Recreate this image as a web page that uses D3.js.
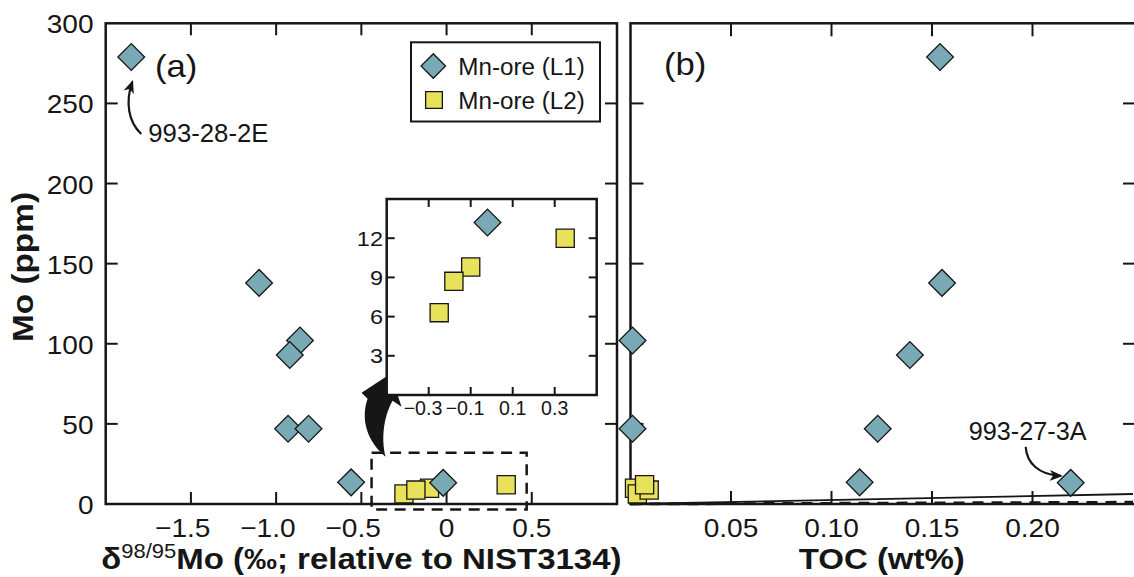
<!DOCTYPE html>
<meta charset='utf-8'>
<style>
    html, body {
        margin: 0;
        background: white;
    }
    svg {
        display: block;
        font-family: 'Liberation Sans', Arial, sans-serif;
    }
</style>
<title>Mo vs d98/95Mo and TOC</title>
<body>
<script src='https://d3js.org/d3.v7.min.js'></script>
<script>

	// Mn-ore (L1), diamonds
	let l1Delta = [-1.85, -1.10, -0.86, -0.92, -0.93, -0.81, -0.56, -0.02];
	let l1Mo    = [279, 138, 102, 93, 47, 47, 13.5, 13.2];
	let l1Toc   = [0.154, 0.155, 0.001, 0.139, 0.001, 0.123, 0.114, 0.219];

	// Mn-ore (L2), squares
	let l2Delta = [-0.10, -0.25, -0.18, 0.35];
	let l2Mo    = [9.8, 6.3, 8.7, 12.0];
	let l2Toc   = [0.002, 0.0034, 0.0093, 0.007];

	// Mo/TOC reference lines in (b)
	let ratioSolid = 25;
	let ratioDashed = 4.5;

	// zoomed area in (a)
	let boxDelta = [-0.44, 0.47];
	let boxMo = [-3.5, 32];

	let moTicks = [0, 50, 100, 150, 200, 250, 300];
	let deltaTicks = [-1.5, -1.0, -0.5, 0, 0.5];
	let tocTicks = [0.05, 0.10, 0.15, 0.20];
	let insetXTicks = [-0.3, -0.1, 0.1, 0.3];
	let insetYTicks = [3, 6, 9, 12];

	let l1 = l1Mo.map(function (m, i) { return {delta: l1Delta[i], mo: m, toc: l1Toc[i]}; });
	let l2 = l2Mo.map(function (m, i) { return {delta: l2Delta[i], mo: m, toc: l2Toc[i]}; });

	let blue = '#78a9b5', yellow = '#e8e15a', ink = '#161616';

	let svg = d3.select('body').append('svg')
		.attr('width', 1134)
		.attr('height', 577);

	let xa = d3.scaleLinear().domain([-2, 1]).range([105.7, 617]);
	let ya = d3.scaleLinear().domain([0, 300]).range([504, 23.3]);
	let xb = d3.scaleLinear().domain([0, 0.25]).range([630.5, 1133]);
	let xi = d3.scaleLinear().domain([-0.5, 0.5]).range([386.7, 596.7]);
	let yi = d3.scaleLinear().domain([0, 15]).range([395, 199]);

	let diamond = d3.symbol().type(d3.symbolSquare).size(357);
	let square = d3.symbol().type(d3.symbolSquare).size(330);

	function txt(g, x, y, s, size, sx, anchor, bold) {
		return g.append('text')
			.attr('transform', 'translate(' + x + ',' + y + ') scale(' + sx + ',1)')
			.attr('font-size', size)
			.attr('text-anchor', anchor || 'start')
			.attr('font-weight', bold ? 'bold' : null)
			.attr('fill', ink)
			.text(s);
	}

	// box with inward ticks on all sides
	function frame(x0, x1, y0, y1, xs, ys, xt, yt, len, sw) {
		let g = svg.append('g').attr('stroke', ink);
		g.append('rect')
			.attr('x', x0).attr('y', y1)
			.attr('width', x1 - x0).attr('height', y0 - y1)
			.attr('fill', 'none')
			.attr('stroke-width', sw);
		xt.forEach(function (v) {
			g.append('line').attr('x1', xs(v)).attr('x2', xs(v)).attr('y1', y0).attr('y2', y0 - len).attr('stroke-width', 2);
			g.append('line').attr('x1', xs(v)).attr('x2', xs(v)).attr('y1', y1).attr('y2', y1 + len).attr('stroke-width', 2);
		});
		yt.forEach(function (v) {
			g.append('line').attr('y1', ys(v)).attr('y2', ys(v)).attr('x1', x0).attr('x2', x0 + len).attr('stroke-width', 2);
			g.append('line').attr('y1', ys(v)).attr('y2', ys(v)).attr('x1', x1).attr('x2', x1 - len).attr('stroke-width', 2);
		});
	}

	function fmt1(v) { return v === 0 ? '0' : d3.format('.1f')(v); }

	// x label with the minus hanging left of the centred number
	function xLabel(g, x, y, v, s, size, sx) {
		let shift = v < 0 ? 0.584 * size * sx / 2 : 0;
		txt(g, x - shift, y, s, size, sx, 'middle');
	}

	function drawMarks(g, data, xs, ys, xKey, shape, sym, fill) {
		g.selectAll(null)
			.data(data)
			.enter().append('path')
			.attr('d', sym)
			.attr('transform', function (d) {
				return 'translate(' + xs(d[xKey]) + ',' + ys(d.mo) + ')' + (shape === 'diamond' ? ' rotate(45)' : '');
			})
			.attr('fill', fill)
			.attr('stroke', ink)
			.attr('stroke-width', 1.3);
	}

	svg.append('defs').append('marker')
		.attr('id', 'head')
		.attr('viewBox', '0 0 12 10')
		.attr('refX', 10).attr('refY', 5)
		.attr('markerWidth', 13).attr('markerHeight', 11)
		.attr('markerUnits', 'userSpaceOnUse')
		.attr('orient', 'auto')
		.append('path')
		.attr('d', 'M0,0 L12,5 L0,10 L3,5 Z')
		.attr('fill', ink);

	// ---------- panel (a)
	frame(105.7, 617, 504, 23.3, xa, ya, deltaTicks, moTicks.slice(1, -1), 12, 2.5);

	let labels = svg.append('g');
	moTicks.forEach(function (v) {
		txt(labels, 93.5, ya(v) + 10, String(v), 26, 1.08, 'end');
	});
	deltaTicks.forEach(function (v) {
		xLabel(labels, xa(v), 537, v, fmt1(v), 26, 1.08);
	});
	tocTicks.forEach(function (v) {
		txt(labels, xb(v), 537, d3.format('.2f')(v), 26, 1.08, 'middle');
	});

	let xt = labels.append('text')
		.attr('transform', 'translate(' + ((xa.range()[0] + xa.range()[1]) / 2) + ',569) scale(1.1,1)')
		.attr('text-anchor', 'middle')
		.attr('font-size', 30)
		.attr('font-weight', 'bold')
		.attr('fill', ink);
	xt.append('tspan').text('δ');
	xt.append('tspan').attr('dy', -11).attr('font-size', 20).attr('font-weight', 'normal').text('98/95');
	xt.append('tspan').attr('dy', 11).text('Mo (‰; relative to NIST3134)');

	txt(labels, (xb.range()[0] + xb.range()[1]) / 2, 569, 'TOC (wt%)', 30, 1.1, 'middle', true);

	labels.append('text')
		.attr('transform', 'translate(32.5,267) rotate(-90) scale(1.15,1)')
		.attr('text-anchor', 'middle')
		.attr('font-size', 29)
		.attr('font-weight', 'bold')
		.attr('fill', ink)
		.text('Mo (ppm)');

	txt(labels, 155, 77, '(a)', 31, 1.12);
	txt(labels, 664, 75, '(b)', 31, 1.12);

	// zoom box and big arrow to the inset
	let bx = xa(boxDelta[0]), by = ya(boxMo[1]);
	svg.append('rect')
		.attr('x', bx).attr('y', by)
		.attr('width', xa(boxDelta[1]) - bx)
		.attr('height', ya(boxMo[0]) - by)
		.attr('fill', 'none')
		.attr('stroke', ink)
		.attr('stroke-width', 2.5)
		.attr('stroke-dasharray', '11,7.5');

	svg.append('path')
		.attr('transform', 'translate(' + bx + ',' + by + ')')
		.attr('d', 'M14,4 C-5,-12 -11,-34 -4,-54 L-10,-60 L19,-79 L30,-46 L21,-52 C13,-38 9,-16 14,4 Z')
		.attr('fill', ink);

	drawMarks(svg.append('g'), l2, xa, ya, 'delta', 'square', square, yellow);
	drawMarks(svg.append('g'), l1, xa, ya, 'delta', 'diamond', diamond, blue);

	// annotation 993-28-2E
	let p1 = {x: xa(l1[0].delta), y: ya(l1[0].mo)};
	svg.append('path')
		.attr('d', 'M' + (p1.x + 10) + ',' + (p1.y + 77) + ' C' + (p1.x - 3) + ',' + (p1.y + 65) + ' ' + (p1.x - 6) + ',' + (p1.y + 45) + ' ' + (p1.x + 1) + ',' + (p1.y + 25))
		.attr('fill', 'none')
		.attr('stroke', ink)
		.attr('stroke-width', 2.2)
		.attr('marker-end', 'url(#head)');
	txt(labels, p1.x + 17, p1.y + 85, '993-28-2E', 25, 1.03);

	// legend
	let leg = svg.append('g');
	leg.append('rect')
		.attr('x', 411).attr('y', 42.3)
		.attr('width', 189).attr('height', 79.2)
		.attr('fill', 'white')
		.attr('stroke', ink)
		.attr('stroke-width', 2);
	leg.append('path')
		.attr('d', d3.symbol().type(d3.symbolSquare).size(300))
		.attr('transform', 'translate(433.3,66) rotate(45)')
		.attr('fill', blue).attr('stroke', ink).attr('stroke-width', 1.3);
	leg.append('path')
		.attr('d', d3.symbol().type(d3.symbolSquare).size(280))
		.attr('transform', 'translate(434,100)')
		.attr('fill', yellow).attr('stroke', ink).attr('stroke-width', 1.3);
	txt(leg, 458.3, 75, 'Mn-ore (L1)', 23.3, 1.04);
	txt(leg, 458.3, 108.5, 'Mn-ore (L2)', 23.3, 1.04);

	// ---------- inset
	svg.append('rect')
		.attr('x', 386.7).attr('y', 199)
		.attr('width', 210).attr('height', 196)
		.attr('fill', 'white');
	frame(386.7, 596.7, 395, 199, xi, yi, insetXTicks, insetYTicks, 8, 2.5);
	insetYTicks.forEach(function (v) {
		txt(labels, 383, yi(v) + 7.5, String(v), 21, 1.12, 'end');
	});
	insetXTicks.forEach(function (v) {
		xLabel(labels, xi(v), 415, v, d3.format('.1f')(v), 20, 0.98);
	});
	let inDomain = function (d) { return d.delta >= -0.5 && d.delta <= 0.5 && d.mo <= 15; };
	drawMarks(svg.append('g'), l2.filter(inDomain), xi, yi, 'delta', 'square', square, yellow);
	drawMarks(svg.append('g'), l1.filter(inDomain), xi, yi, 'delta', 'diamond', diamond, blue);

	// ---------- panel (b)
	frame(630.5, 1136, 504, 23.3, xb, ya, tocTicks, moTicks.slice(1, -1), 13, 2.5);

	let tocEnd = xb.domain()[1];
	svg.append('line')
		.attr('x1', xb(0)).attr('y1', ya(0))
		.attr('x2', xb(tocEnd)).attr('y2', ya(ratioSolid * tocEnd))
		.attr('stroke', ink).attr('stroke-width', 1.8);
	svg.append('line')
		.attr('x1', xb(0)).attr('y1', ya(0))
		.attr('x2', xb(tocEnd)).attr('y2', ya(ratioDashed * tocEnd))
		.attr('stroke', ink).attr('stroke-width', 2.8)
		.attr('stroke-dasharray', '11,8');

	drawMarks(svg.append('g'), l2, xb, ya, 'toc', 'square', square, yellow);
	drawMarks(svg.append('g'), l1, xb, ya, 'toc', 'diamond', diamond, blue);

	// annotation 993-27-3A
	let p2 = {x: xb(l1[7].toc), y: ya(l1[7].mo)};
	svg.append('path')
		.attr('d', 'M' + (p2.x - 45) + ',' + (p2.y - 36) + ' C' + (p2.x - 44) + ',' + (p2.y - 20) + ' ' + (p2.x - 32) + ',' + (p2.y - 8) + ' ' + (p2.x - 10) + ',' + (p2.y - 7))
		.attr('fill', 'none')
		.attr('stroke', ink)
		.attr('stroke-width', 2.2)
		.attr('marker-end', 'url(#head)');
	txt(labels, p2.x - 102, p2.y - 43, '993-27-3A', 25, 1.01);

	labels.raise();

</script>
</body>
